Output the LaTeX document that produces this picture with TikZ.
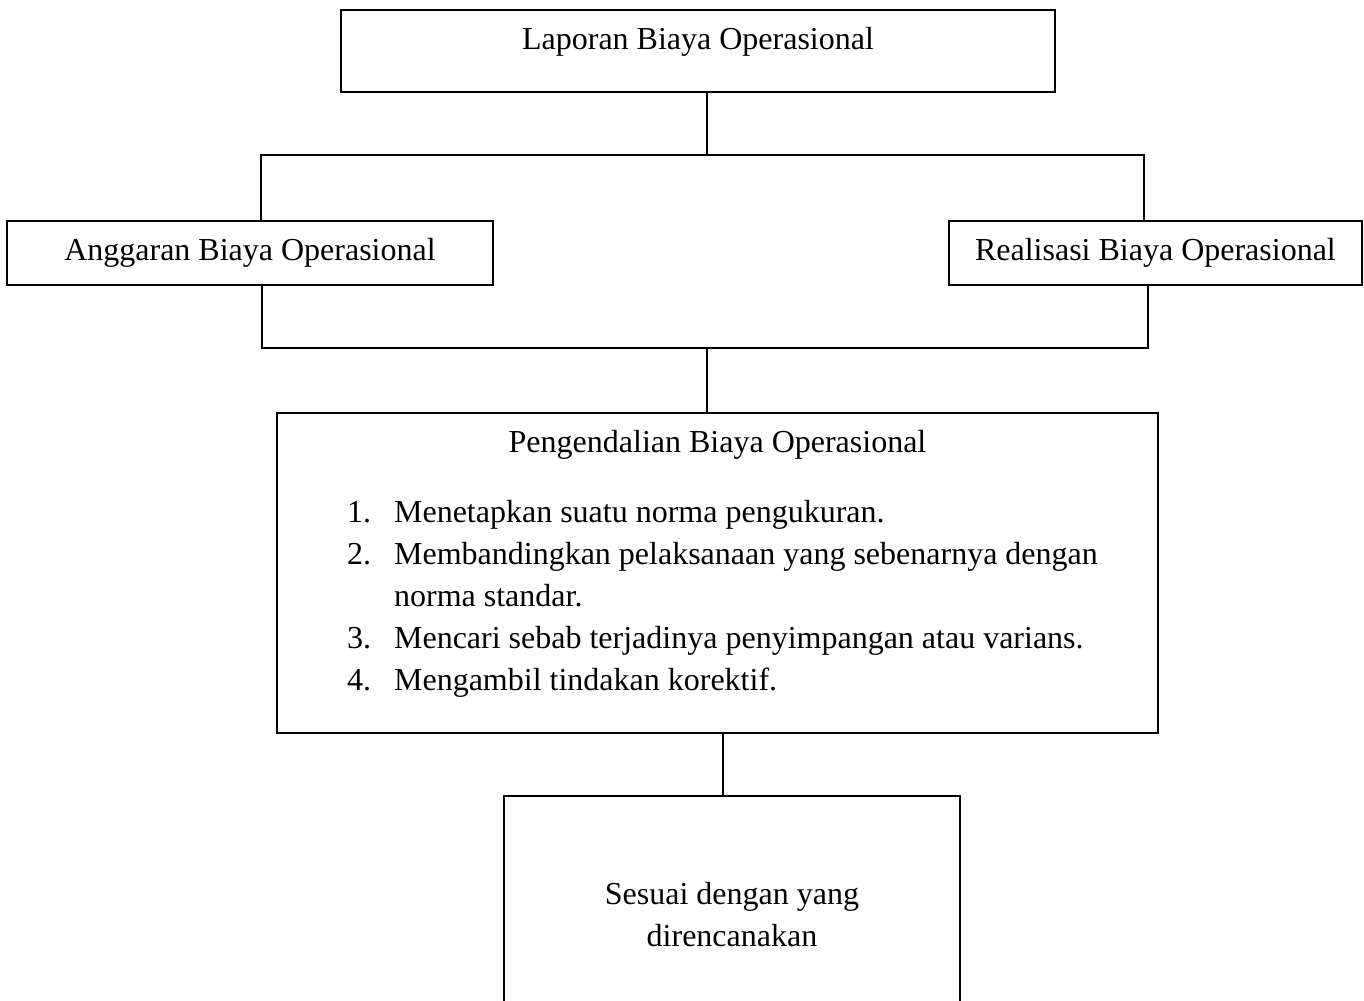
\documentclass[tikz,border=0pt]{standalone}
\usepackage{fontspec}
\setmainfont{Liberation Serif}
\usepackage{array}

\begin{document}
\begin{tikzpicture}[
    line width=0.8pt,
    font=\fontsize{12pt}{15.75pt}\selectfont,
    block/.style={
        rectangle,
        draw,
        inner sep=0pt
    },
    wideblock/.style={
        block,
        minimum height=24pt
    }
]

\useasboundingbox (0,0) rectangle (17.978,-13.193);

\node[block, minimum width=267.75pt, text height=15pt, text depth=15.75pt,
    anchor=base] (laporan) at (9.200,-0.659)
{Laporan Biaya Operasional};

\node[wideblock, minimum width=182.25pt] (anggaran) at (3.295,-3.335)
{Anggaran Biaya Operasional};

\node[wideblock, minimum width=154.9pt] (realisasi) at (15.229,-3.335)
{Realisasi Biaya Operasional};

\node[block, align=center, minimum width=330.4pt, minimum height=120pt]
    (kendali) at (9.457,-7.552)
{Pengendalian Biaya Operasional\\[10.5pt]
\begin{tabular}[t]{@{\hspace{3.75pt}}p{17.6pt}@{}l@{}}
1. & Menetapkan suatu norma pengukuran.\\
2. & Membandingkan pelaksanaan yang sebenarnya dengan\\
   & norma standar.\\
3. & Mencari sebab terjadinya penyimpangan atau varians.\\
4. & Mengambil tindakan korektif.\\[5pt]
\end{tabular}};

\node[align=center, minimum width=170.25pt, minimum height=88.5pt,
    inner sep=0pt] (hasil) at (9.648,-12.060)
{Sesuai dengan yang\\direncanakan};

\coordinate (splitMid) at (9.318,-2.043);
\coordinate (splitLeft) at (3.440,-2.043);
\coordinate (splitRight) at (15.078,-2.043);
\coordinate (mergeMid) at (9.318,-4.587);
\coordinate (mergeLeft) at (3.453,-4.587);
\coordinate (mergeRight) at (15.131,-4.587);
\coordinate (lowMid) at (9.529,-10.504);
\coordinate (pageBottom) at (0,-13.193);

\draw
(laporan.south -| splitMid) -- (splitMid);

\draw
(anggaran.north -| splitLeft) -- (splitLeft) --
(splitRight) -- (realisasi.north -| splitRight);

\draw
(anggaran.south -| mergeLeft) -- (mergeLeft) --
(mergeRight) -- (realisasi.south -| mergeRight);

\draw
(mergeMid) -- (kendali.north -| mergeMid);

\draw
(kendali.south -| lowMid) -- (hasil.north -| lowMid);

% bottom box runs off the page
\draw
(hasil.west |- pageBottom) -- (hasil.north west) --
(hasil.north east) -- (hasil.east |- pageBottom);

\end{tikzpicture}
\end{document}
